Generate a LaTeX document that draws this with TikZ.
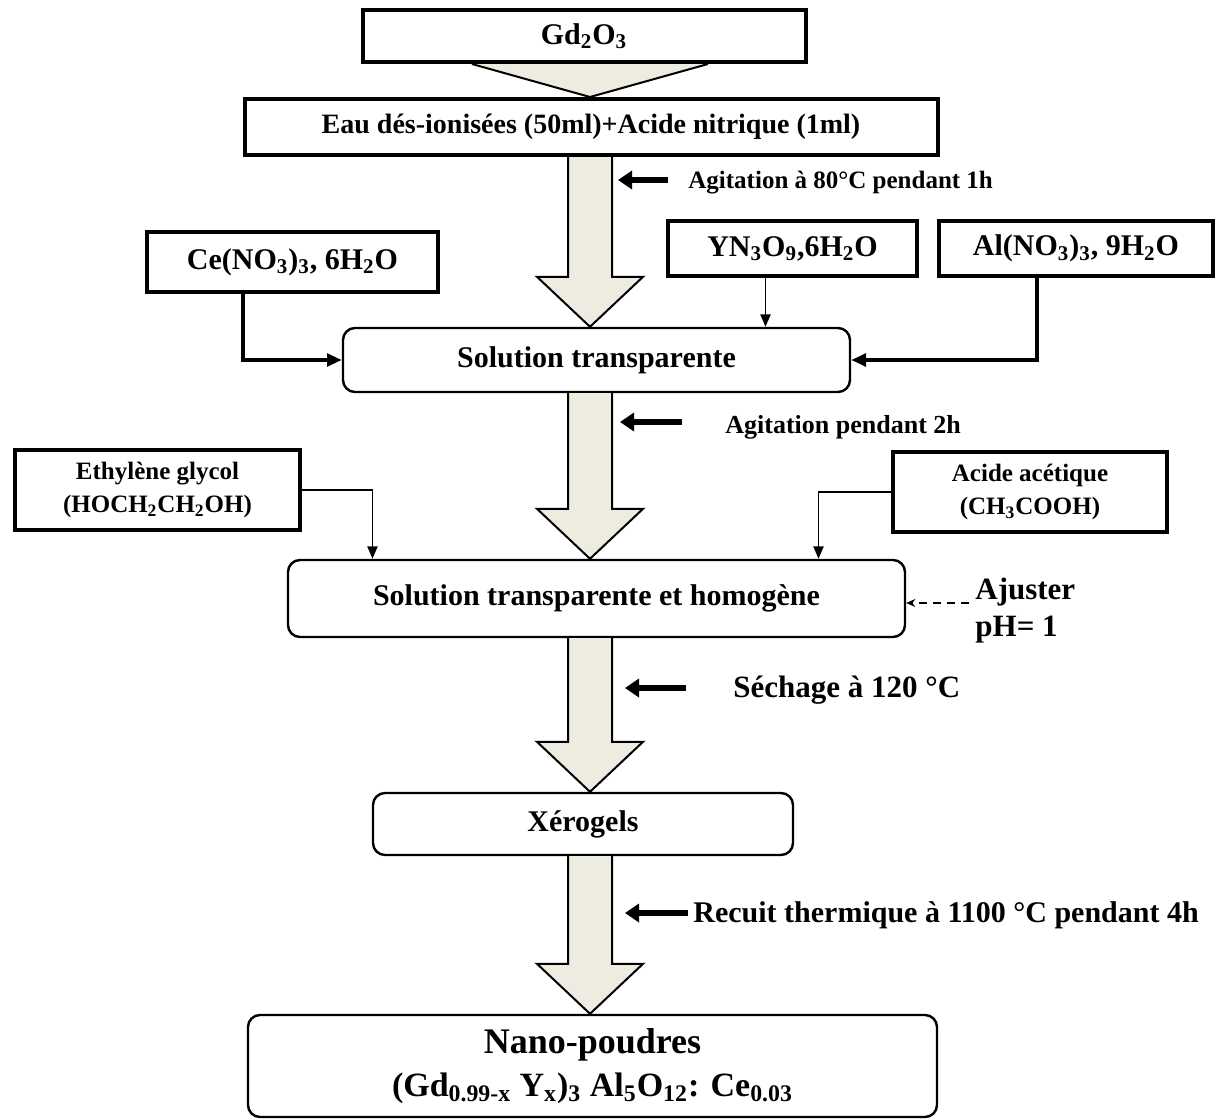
\documentclass[tikz,border=0pt]{standalone}
\usepackage{fontspec}
\setmainfont{Liberation Serif}
\usepackage{xcolor}
\usetikzlibrary{arrows.meta,calc,positioning}

\definecolor{wash}{HTML}{EEECE1}

% wide hollow arrow down the middle column, from one stage to the next
\newcommand{\fatarrow}[2]{%
  \draw[fat] ($(#1.south -| col)+(-22,0)$) -- ($(#2.north -| col)+(-22,-50)$)
    -- ($(#2.north -| col)+(-53,-50)$) -- (#2.north -| col)
    -- ($(#2.north -| col)+(53,-50)$) -- ($(#2.north -| col)+(22,-50)$)
    -- ($(#1.south -| col)+(22,0)$);}

\begin{document}
\begin{tikzpicture}[x=0.5pt,y=-0.5pt,
  box/.style={draw,line width=2pt,align=center,inner sep=2pt,
    font=\bfseries\fontsize{15}{18}\selectfont},
  soln/.style={draw,rounded corners=6pt,line width=1.2pt,align=center,
    font=\bfseries\fontsize{15}{18}\selectfont},
  fat/.style={draw,fill=wash,line width=1pt,line join=miter},
  feed/.style={-{Triangle[length=2.6mm,width=2.2mm]},line width=2pt},
  feedthin/.style={-{Triangle[length=2.2mm,width=1.8mm]},line width=.8pt},
  hint/.style={-{Triangle[length=7pt,width=9pt]},line width=3pt},
  phlink/.style={-{Stealth[length=1.6mm,width=1.4mm]},line width=.8pt,
    dash pattern=on 4pt off 3pt},
  note/.style={anchor=west,inner sep=0pt,
    font=\bfseries\fontsize{15}{18}\selectfont}]
\useasboundingbox (0,0) rectangle (1228,1120);
\coordinate (col) at (590,0);

% stages down the middle
\node[box,minimum width=221.5pt,minimum height=26pt] (gd) at (584,36)
  {Gd\textsubscript{2}O\textsubscript{3}};
\node[box,minimum width=346.5pt,minimum height=28pt,
  font=\bfseries\fontsize{14}{17}\selectfont] (eau) at (591,127)
  {Eau dés-ionisées (50ml)+Acide nitrique (1ml)};
\node[soln,minimum width=253.5pt,minimum height=32pt] (sol1) at (596.5,360)
  {Solution transparente};
\node[soln,minimum width=308.5pt,minimum height=38.5pt] (sol2) at (596.5,598.5)
  {\raisebox{2pt}{Solution transparente et homogène}};
\node[soln,minimum width=210pt,minimum height=31pt] (xero) at (583,824)
  {Xérogels};
\node[soln,minimum width=344.5pt,minimum height=51pt,
  font=\bfseries\fontsize{17}{21.5}\selectfont] (nano) at (592.5,1066)
  {{\fontsize{18}{21.5}\selectfont Nano-poudres}\\
   (Gd\textsubscript{0.99-x} Y\textsubscript{x})\textsubscript{3}
   Al\textsubscript{5}O\textsubscript{12}: Ce\textsubscript{0.03}};

% reagents fed in from the sides
\node[box,minimum width=145.5pt,minimum height=30pt] (ce) at (292.5,262)
  {Ce(NO\textsubscript{3})\textsubscript{3}, 6H\textsubscript{2}O};
\node[box,minimum width=124.5pt,minimum height=27.5pt] (yn) at (792.5,248.5)
  {YN\textsubscript{3}O\textsubscript{9},6H\textsubscript{2}O};
\node[box,minimum width=137pt,minimum height=27.5pt,right=9pt of yn] (al)
  {Al(NO\textsubscript{3})\textsubscript{3}, 9H\textsubscript{2}O};
\node[box,minimum width=142.5pt,minimum height=40pt,
  font=\bfseries\fontsize{12.5}{16.5}\selectfont] (eth) at (157.5,490)
  {Ethylène glycol\\(HOCH\textsubscript{2}CH\textsubscript{2}OH)};
\node[box,minimum width=137pt,minimum height=40pt,
  font=\bfseries\fontsize{12.5}{16.5}\selectfont] (ace) at (1030,492)
  {Acide acétique\\(CH\textsubscript{3}COOH)};

% conditions
\node[note,font=\bfseries\fontsize{12.5}{15}\selectfont] (ag1) at (688,183)
  {Agitation à 80°C pendant 1h};
\node[note,font=\bfseries\fontsize{13}{15}\selectfont] (ag2) at (725,427)
  {Agitation pendant 2h};
\node[note,font=\bfseries\fontsize{15.5}{18}\selectfont] (sech) at (733,690)
  {Séchage à 120 °C};
\node[note] (rec) at (693,915) {Recuit thermique à 1100 °C pendant 4h};
\node[note,align=left,font=\bfseries\fontsize{15.5}{18.5}\selectfont] (ph)
  at (975,611) {Ajuster\\pH= 1};

% main flow
\draw[fat] ($(gd.south -| col)+(-118,0)$) -- (eau.north -| col)
  -- ($(gd.south -| col)+(118,0)$);
\fatarrow{eau}{sol1}
\fatarrow{sol1}{sol2}
\fatarrow{sol2}{xero}
\fatarrow{xero}{nano}

% feeds
\coordinate (ynfoot) at ([xshift=-13.5pt]yn.south);
\draw[feed] ([xshift=-25pt]ce.south) |- (sol1.west);
\draw[feedthin] (ynfoot) -- (ynfoot |- sol1.north);
\draw[feed] ([xshift=-19.5pt]al.south) |- (sol1.east);
\draw[feedthin] (eth.east) -| ([xshift=-112pt]sol2.north);
\draw[feedthin] (ace.west) -| ([xshift=111pt]sol2.north);
\coordinate (phfoot) at ([xshift=-3pt,yshift=4pt]ph.west);
\draw[phlink] (phfoot) -- (phfoot -| sol2.east);

% pointers to the main column
\draw[hint] ($(ag1.west)+(-20,-3)$) -- ($(ag1.west -| col)+(28,-3)$);
\draw[hint] ($(ag2.west)+(-43,-5)$) -- ($(ag2.west -| col)+(30,-5)$);
\draw[hint] ($(sech.west)+(-47,-2)$) -- ($(sech.west -| col)+(35,-2)$);
\draw[hint] ($(rec.west)+(-5,-2)$) -- ($(rec.west -| col)+(35,-2)$);
\end{tikzpicture}
\end{document}
